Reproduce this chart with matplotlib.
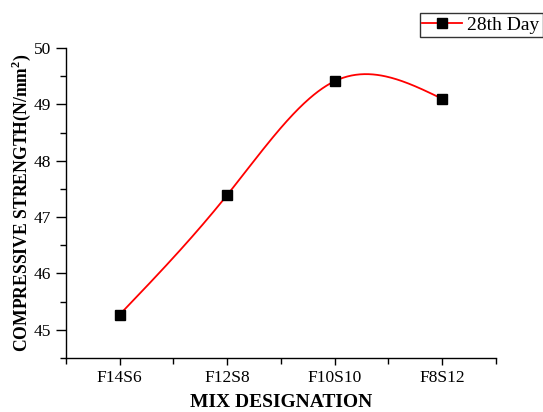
import numpy as np
import matplotlib
matplotlib.use('Agg')
import matplotlib.pyplot as plt
from matplotlib.ticker import MultipleLocator

plt.rcParams['font.family'] = 'Liberation Serif'
plt.rcParams['mathtext.fontset'] = 'custom'
plt.rcParams['mathtext.rm'] = 'Liberation Serif'
plt.rcParams['mathtext.bf'] = 'Liberation Serif:bold'

# data
mixes = ['F14S6', 'F12S8', 'F10S10', 'F8S12']
strength_28 = [45.27, 47.39, 49.41, 49.10]

# natural cubic spline through the points (smooth line like Origin)
def natural_spline(x, y, xs):
    x = np.asarray(x, float)
    y = np.asarray(y, float)
    n = len(x)
    h = np.diff(x)
    A = np.zeros((n, n))
    b = np.zeros(n)
    A[0, 0] = 1
    A[-1, -1] = 1
    for i in range(1, n - 1):
        A[i, i - 1] = h[i - 1]
        A[i, i] = 2 * (h[i - 1] + h[i])
        A[i, i + 1] = h[i]
        b[i] = 6 * ((y[i + 1] - y[i]) / h[i] - (y[i] - y[i - 1]) / h[i - 1])
    M = np.linalg.solve(A, b)
    out = np.empty_like(xs)
    for k, xv in enumerate(xs):
        i = min(np.searchsorted(x, xv) - 1, n - 2)
        i = max(i, 0)
        t1 = x[i + 1] - xv
        t0 = xv - x[i]
        out[k] = (M[i] * t1**3 + M[i + 1] * t0**3) / (6 * h[i]) \
            + (y[i] / h[i] - M[i] * h[i] / 6) * t1 \
            + (y[i + 1] / h[i] - M[i + 1] * h[i] / 6) * t0
    return out

xpos = np.arange(1, len(mixes) + 1)
xs = np.linspace(1, len(mixes), 300)
ys = natural_spline(xpos, strength_28, xs)

fig = plt.figure(figsize=(5.43, 4.12), dpi=100)
ax = fig.add_axes([0.1215, 0.1311, 0.7913, 0.7524])

ax.plot(xs, ys, color='red', lw=1.3, zorder=2)
ax.plot(xpos, strength_28, 's', color='black', ms=6.5, zorder=3)
# legend proxy
ax.plot([], [], '-s', color='red', mfc='black', mec='black', lw=1.3, ms=6.5, label='28th Day')

ax.set_xlim(0.5, 4.5)
ax.set_ylim(44.5, 50)
ax.set_xticks(xpos)
ax.set_xticklabels(mixes)
ax.xaxis.set_minor_locator(MultipleLocator(0.5))
ax.yaxis.set_major_locator(MultipleLocator(1))
ax.yaxis.set_minor_locator(MultipleLocator(0.5))

for s in ['top', 'right']:
    ax.spines[s].set_visible(False)
for s in ['left', 'bottom']:
    ax.spines[s].set_linewidth(1.0)

ax.tick_params(axis='y', which='major', direction='out', length=7, width=1, labelsize=12.5, pad=3.5)
ax.tick_params(axis='y', which='minor', direction='out', length=4, width=1)
ax.tick_params(axis='x', which='major', direction='out', length=5, width=1, labelsize=12.5, pad=3.5)
ax.tick_params(axis='x', which='minor', direction='out', length=4, width=1)

ax.set_xlabel('MIX DESIGNATION', fontsize=14, fontweight='bold', labelpad=6)
ax.set_ylabel(r'COMPRESSIVE STRENGTH(N/mm$^\mathbf{2}$)', fontsize=12.7, fontweight='bold', labelpad=1)

leg = fig.legend(loc='upper right', bbox_to_anchor=(0.9991, 0.9677), bbox_transform=fig.transFigure,
                 fontsize=14, frameon=True, fancybox=False, handlelength=2.06,
                 borderpad=0.15, handletextpad=0.25, borderaxespad=0)
leg.get_frame().set_edgecolor('black')
leg.get_frame().set_linewidth(1.0)

fig.savefig('out.png', dpi=100)
